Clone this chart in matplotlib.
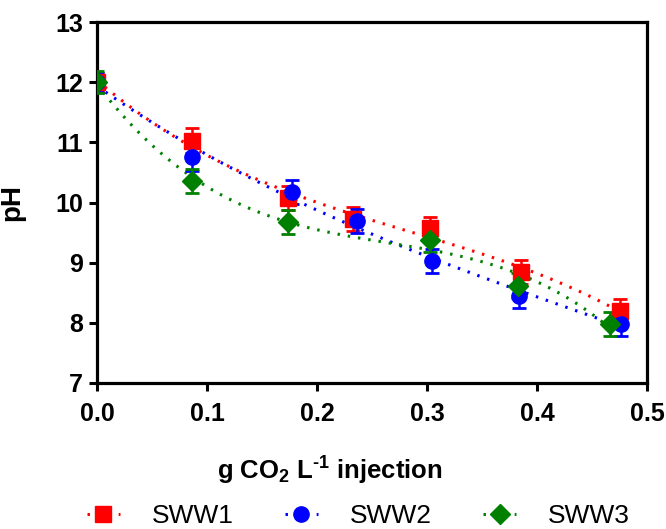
import numpy as np
import matplotlib
matplotlib.use('Agg')
import matplotlib.pyplot as plt

plt.rcParams['font.family'] = ['Liberation Sans', 'DejaVu Sans']
plt.rcParams['mathtext.fontset'] = 'custom'
plt.rcParams['mathtext.bf'] = 'Liberation Sans:bold'
plt.rcParams['mathtext.rm'] = 'Liberation Sans:bold'
plt.rcParams['mathtext.default'] = 'bf'

# SWW1 (red squares)
x_sww1 = [0.0, 0.086, 0.174, 0.233, 0.303, 0.385, 0.475]
y_sww1 = [12.0, 11.03, 10.08, 9.72, 9.58, 8.85, 8.20]
e_sww1 = [0.15, 0.20, 0.20, 0.20, 0.18, 0.20, 0.20]

# SWW2 (blue circles)
x_sww2 = [0.0, 0.086, 0.177, 0.236, 0.305, 0.384, 0.476]
y_sww2 = [12.0, 10.75, 10.17, 9.70, 9.02, 8.45, 7.98]
e_sww2 = [0.15, 0.22, 0.20, 0.20, 0.20, 0.20, 0.20]

# SWW3 (green diamonds)
x_sww3 = [0.0, 0.086, 0.174, 0.303, 0.383, 0.466]
y_sww3 = [12.0, 10.35, 9.68, 9.38, 8.62, 7.98]
e_sww3 = [0.18, 0.20, 0.20, 0.20, 0.20, 0.20]

labels = ['SWW1', 'SWW2', 'SWW3']
colors = ['#FF0000', '#0000FF', '#008000']
markers = ['s', 'o', 'D']
msizes = [11, 11, 10]

x_ticks = [0.0, 0.1, 0.2, 0.3, 0.4, 0.5]
y_ticks = [7, 8, 9, 10, 11, 12, 13]

fig = plt.figure(figsize=(6.66, 5.29), dpi=100)
ax = fig.add_axes([0.1456, 0.276, 0.8259, 0.6824])

series = [(x_sww1, y_sww1, e_sww1), (x_sww2, y_sww2, e_sww2), (x_sww3, y_sww3, e_sww3)]
handles = []
for (xs, ys, es), lab, c, m, ms in zip(series, labels, colors, markers, msizes):
    # cubic trend line fitted to the points
    coef = np.polyfit(xs, ys, 3)
    xf = np.linspace(min(xs), max(xs), 200)
    ax.plot(xf, np.polyval(coef, xf), color=c, linewidth=2.2,
            linestyle=(0, (0.8, 2.6)), zorder=2)
    ax.errorbar(xs, ys, yerr=es, fmt=m, color=c, markersize=ms,
                elinewidth=1.8, capsize=5, capthick=2, zorder=3)
    h, = ax.plot([], [], color=c, marker=m, markersize=ms, linewidth=2.2,
                 linestyle=(0, (0.8, 2.6)))
    handles.append(h)

ax.set_xlim(0, 0.5)
ax.set_ylim(7, 13)
ax.set_xticks(x_ticks)
ax.set_xticklabels([f'{v:.1f}' for v in x_ticks])
ax.set_yticks(y_ticks)
for sp in ax.spines.values():
    sp.set_linewidth(2.3)
ax.tick_params(axis='both', direction='out', length=6, width=2.2,
               labelsize=18)
ax.tick_params(axis='x', pad=8)
ax.tick_params(axis='y', pad=4)
for t in ax.get_xticklabels() + ax.get_yticklabels():
    t.set_fontweight('bold')

ax.set_xlabel(r'g CO$_{2}$ L$^{\text{-1}}$ injection', fontsize=18.5,
              fontweight='bold')
ax.xaxis.set_label_coords(0.424, -0.20)
ax.set_ylabel('pH', fontsize=20, fontweight='bold')
ax.yaxis.set_label_coords(-0.13, 0.5)

fig.legend(handles, labels, loc='center', bbox_to_anchor=(0.538, 0.024),
           ncol=3, frameon=False, fontsize=19, handlelength=1.25,
           columnspacing=1.95, handletextpad=1.2)

fig.savefig('out.png', dpi=100, facecolor='white')
